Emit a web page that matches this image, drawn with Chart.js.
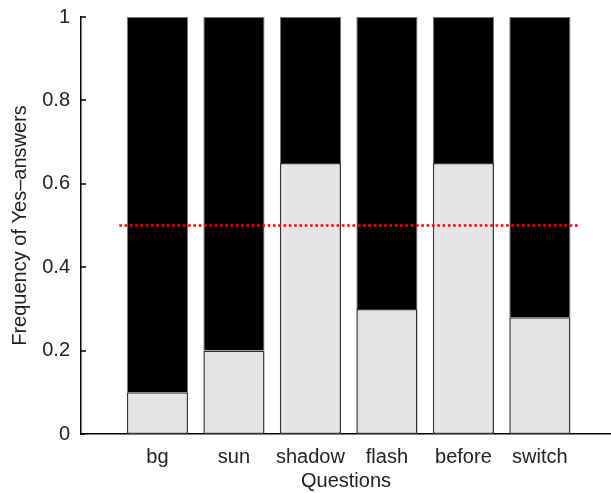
<!DOCTYPE html>
<html>
  <head>
    <title>Yes answers per question</title>
    <script src="https://cdn.jsdelivr.net/npm/chart.js"></script>
    <style>
      html, body {
        margin: 0;
        padding: 0;
        background: #fff;
        overflow: hidden;
      }
      .chart-container {
        width: 611px;
        height: 493px;
      }
    </style>
  </head>
  <body>
    <div class="chart-container">
      <canvas id="myChart"></canvas>
    </div>
    <script>
      // questions on the x axis
      const questions = ["bg", "sun", "shadow", "flash", "before", "switch"];
      // frequency of yes answers (light part of each bar)
      const yesFreq = [0.1, 0.2, 0.65, 0.3, 0.65, 0.28];
      // chance level line
      const chance = 0.5;
      const yTicks = [0, 0.2, 0.4, 0.6, 0.8, 1];

      // the rest of each bar up to 1 (black part)
      const noFreq = yesFreq.map((v) => +(1 - v).toFixed(2));

      // small inward tick marks on the y axis
      const inwardTicks = {
        id: "inwardTicks",
        afterDraw(chart) {
          const y = chart.scales.y;
          const ctx = chart.ctx;
          ctx.save();
          ctx.strokeStyle = "#000";
          ctx.lineWidth = 1.5;
          y.ticks.forEach((t) => {
            const py = Math.round(y.getPixelForValue(t.value));
            ctx.beginPath();
            ctx.moveTo(y.right, py);
            ctx.lineTo(y.right + 5, py);
            ctx.stroke();
          });
          ctx.restore();
        },
      };

      const font = { family: "'Liberation Sans', Arial, sans-serif", size: 20 };

      new Chart(document.getElementById("myChart"), {
        data: {
          datasets: [
            {
              type: "line",
              data: [
                { x: 0.5, y: chance },
                { x: questions.length + 0.5, y: chance },
              ],
              borderColor: "#ff0000",
              borderWidth: 2.5,
              borderDash: [2.6, 2.7],
              pointRadius: 0,
              order: 0,
            },
            {
              type: "bar",
              data: questions.map((q, i) => ({ x: i + 1, y: yesFreq[i] })),
              backgroundColor: "#e5e5e5",
              borderColor: "#333",
              borderWidth: 1.5,
              borderSkipped: false,
              categoryPercentage: 1,
              barPercentage: 0.8,
              order: 1,
            },
            {
              type: "bar",
              data: questions.map((q, i) => ({ x: i + 1, y: noFreq[i] })),
              backgroundColor: "#000",
              borderColor: "#777",
              borderWidth: 1,
              borderSkipped: "bottom",
              categoryPercentage: 1,
              barPercentage: 0.8,
              order: 1,
            },
          ],
        },
        options: {
          responsive: true,
          maintainAspectRatio: false,
          animation: false,
          layout: { padding: { top: 17, right: 0, left: 0, bottom: 0 } },
          plugins: {
            legend: { display: false },
            tooltip: { enabled: false },
          },
          scales: {
            x: {
              type: "linear",
              min: 0,
              max: 6.93,
              offset: false,
              stacked: true,
              grid: { display: false, drawTicks: false, offset: false },
              border: { display: true, color: "#000", width: 1.5 },
              afterBuildTicks: (s) => {
                s.ticks = questions.map((q, i) => ({ value: i + 1 }));
              },
              afterFit: (s) => {
                s.height = 59;
                s.paddingLeft = 0;
                s.paddingRight = 0;
              },
              ticks: {
                padding: 11,
                color: "#222",
                font: font,
                maxRotation: 0,
                autoSkip: false,
                callback: (v) => questions[v - 1] || "",
              },
              title: {
                display: true,
                text: "Questions",
                color: "#222",
                font: font,
                padding: { top: 0, bottom: 0 },
              },
            },
            y: {
              min: 0,
              max: 1,
              stacked: true,
              grid: { display: false, drawTicks: false },
              border: { display: true, color: "#000", width: 1.5 },
              afterBuildTicks: (s) => {
                s.ticks = yTicks.map((v) => ({ value: v }));
              },
              afterFit: (s) => {
                s.width = 81;
                s.paddingTop = 0;
                s.paddingBottom = 0;
              },
              ticks: {
                padding: 11,
                color: "#222",
                font: font,
                callback: (v) => String(v),
              },
              title: {
                display: true,
                text: "Frequency of Yes\u2013answers",
                color: "#222",
                font: font,
                padding: { top: 8, bottom: 0 },
              },
            },
          },
        },
        plugins: [inwardTicks],
      });
    </script>
  </body>
</html>
